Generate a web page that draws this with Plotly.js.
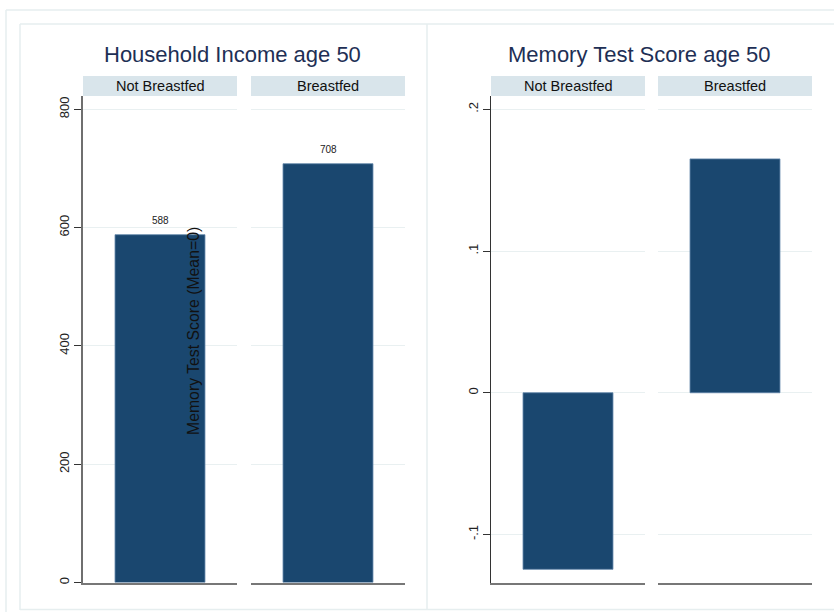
<!DOCTYPE html>
<html>
<head>
<meta charset="utf-8">
<script src="https://cdn.plot.ly/plotly-3.0.1.min.js"></script>
<style>html,body{margin:0;padding:0;background:#fff;}#chart{width:834px;height:612px;}</style>
</head>
<body>
<div id="chart"></div>
<script>
// ---- data ----
const groups = ["Not Breastfed", "Breastfed"];
const incomeValues = [588, 708];
const memoryValues = [-0.1246, 0.165];
const panelTitles = ["Household Income age 50", "Memory Test Score age 50"];
const incomeTickVals = [0, 200, 400, 600, 800];
const incomeTickText = ["0", "200", "400", "600", "800"];
const memoryTickVals = [-0.1, 0, 0.1, 0.2];
const memoryTickText = ["-.1", "0", ".1", ".2"];
const yTitleText = "Memory Test Score (Mean=0)";

// ---- geometry helpers (pixels -> paper) ----
const W = 834, H = 612;
const px = v => v / W;
const py = v => 1 - v / H;
const FONT = "Liberation Sans, Arial, Helvetica, sans-serif";
const BAR = "#1a476f";
const GRID = "#e9f0f1";
const STRIP = "#d9e5eb";
const BORDER = "#e6eeef";
const TITLE = "#1e2f55";

const xDomains = [[83, 237], [251, 405], [491, 645], [658, 812]];
const yDom = [py(582.5), py(96)];

const allValues = [incomeValues, memoryValues];
const traces = [];
const layout = {
  width: W, height: H,
  margin: {l: 0, r: 0, t: 0, b: 0},
  paper_bgcolor: "#fff",
  plot_bgcolor: "rgba(0,0,0,0)",
  showlegend: false,
  font: {family: FONT, color: "#222"},
  shapes: [],
  annotations: []
};

for (let p = 0; p < 2; p++) {
  for (let g = 0; g < 2; g++) {
    const k = p * 2 + g + 1;
    const s = k === 1 ? "" : String(k);
    traces.push({
      type: "bar",
      x: [groups[g]],
      y: [allValues[p][g]],
      width: 0.584,
      marker: {color: BAR, line: {color: "#5f84a8", width: 0.8}},
      hoverinfo: "skip",
      xaxis: "x" + s,
      yaxis: "y" + s
    });
    if (p === 0) {
      layout.annotations.push({xref: "x" + s, yref: "y" + s,
        x: groups[g], y: allValues[p][g], yanchor: "bottom", xanchor: "center",
        yshift: 7, showarrow: false, text: String(allValues[p][g]),
        font: {family: FONT, size: 10, color: "#222"}});
    }
  }
}

const xBase = {range: [-0.5, 0.5], showgrid: false, zeroline: false, showticklabels: false,
  ticks: "", showline: true, linecolor: "#777", linewidth: 2, fixedrange: true};

for (let k = 1; k <= 4; k++) {
  const s = k === 1 ? "" : String(k);
  layout["xaxis" + s] = Object.assign({}, xBase, {
    domain: [px(xDomains[k - 1][0]), px(xDomains[k - 1][1])],
    anchor: "y" + s
  });
  const isIncome = k <= 2;
  const first = (k === 1 || k === 3);
  layout["yaxis" + s] = {
    domain: yDom,
    anchor: "x" + s,
    range: isIncome ? [0, 822.5] : [-0.1339, 0.2094],
    tickvals: isIncome ? incomeTickVals : memoryTickVals,
    ticktext: isIncome ? incomeTickText : memoryTickText,
    showticklabels: first,
    ticks: first ? "outside" : "",
    ticklen: 7, tickwidth: 1, tickcolor: "#333",
    tickangle: -90,
    tickfont: {family: FONT, size: 13, color: "#222"},
    showgrid: true, gridcolor: GRID, gridwidth: 1,
    zeroline: false,
    showline: first,
    linecolor: k === 1 ? "#6f6f6f" : "#333",
    linewidth: k === 1 ? 1.6 : 1.1,
    fixedrange: true
  };
}

// strips
for (let k = 0; k < 4; k++) {
  layout.shapes.push({type: "rect", xref: "paper", yref: "paper",
    x0: px(xDomains[k][0]), x1: px(xDomains[k][1]), y0: py(96), y1: py(76),
    fillcolor: STRIP, line: {width: 0}, layer: "below"});
  layout.annotations.push({xref: "paper", yref: "paper",
    x: px((xDomains[k][0] + xDomains[k][1]) / 2), y: py(86.5),
    xanchor: "center", yanchor: "middle", showarrow: false,
    text: groups[k % 2], font: {family: FONT, size: 14.5, color: "#111"}});
}

// panel titles
const titleCenters = [232, 639];
for (let p = 0; p < 2; p++) {
  layout.annotations.push({xref: "paper", yref: "paper",
    x: px(titleCenters[p]), y: py(54), xanchor: "center", yanchor: "middle",
    showarrow: false, text: panelTitles[p],
    font: {family: FONT, size: 22, color: TITLE}});
}

// misplaced y title
layout.annotations.push({xref: "paper", yref: "paper",
  x: px(193), y: py(331), xanchor: "center", yanchor: "middle",
  showarrow: false, textangle: -90, text: yTitleText,
  font: {family: FONT, size: 15.8, color: "#111"}});

// frame lines
const ln = (x0, y0, x1, y1) => ({type: "line", xref: "paper", yref: "paper",
  x0: px(x0), y0: py(y0), x1: px(x1), y1: py(y1),
  line: {color: BORDER, width: 1.5}, layer: "below"});
layout.shapes.push(ln(6, 10, 834, 10));
layout.shapes.push(ln(6, 10, 6, 612));
layout.shapes.push(ln(20, 24, 834, 24));
layout.shapes.push(ln(20, 24, 20, 610));
layout.shapes.push(ln(427, 24, 427, 610));
layout.shapes.push(ln(20, 609.5, 834, 609.5));

Plotly.newPlot("chart", traces, layout, {staticPlot: true, displayModeBar: false});
</script>
</body>
</html>
